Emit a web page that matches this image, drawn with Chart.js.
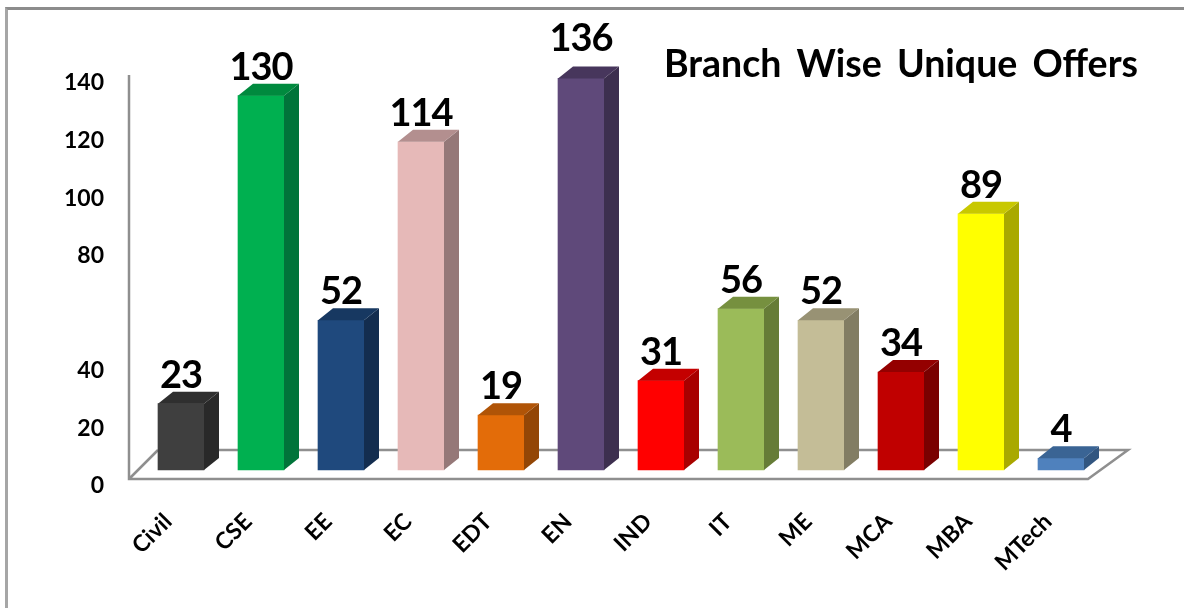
<!DOCTYPE html>
<html>
<head>
<meta charset="utf-8">
<script src="https://cdn.jsdelivr.net/npm/chart.js@4"></script>
<style>
    html, body { margin: 0; padding: 0; background: #fff; overflow: hidden; }
    #wrap { position: relative; width: 1184px; height: 608px; }
    #frame { position: absolute; left: 5px; top: 7px; right: 0; bottom: 0; border-top: 3px solid #8c8c8c; border-left: 3px solid #a6a6a6; }
    canvas { position: absolute; left: 0; top: 0; }
</style>
</head>
<body>
<div id="wrap">
    <div id="frame"></div>
    <canvas id="myChart" width="1184" height="608"></canvas>
</div>
<script>
const categories = ['Civil', 'CSE', 'EE', 'EC', 'EDT', 'EN', 'IND', 'IT', 'ME', 'MCA', 'MBA', 'MTech'];
const offers = [23, 130, 52, 114, 19, 136, 31, 56, 52, 34, 89, 4];
const barColors = ['#3f3f3f', '#00b050', '#1f497d', '#e6b9b8', '#e36c09', '#5f497a', '#ff0000', '#9bbb59', '#c4bd97', '#c00000', '#ffff00', '#4f81bd'];
const topColors = ['#2f2f2f', '#008a3e', '#173861', '#b38f8f', '#b05407', '#47365c', '#c40000', '#76903f', '#989274', '#940000', '#c8c800', '#3a6494'];
const sideColors = ['#292929', '#00743a', '#132d4f', '#957878', '#934606', '#3d2f4f', '#a80000', '#667c37', '#827d63', '#7a0000', '#a9a900', '#325680'];
const hiddenTicks = [60];
const chartTitle = 'Branch Wise Unique Offers';

const DEPTH_X = 15;
const DEPTH_Y = 12;
const FONT = 'Lato, sans-serif';

function poly(ctx, color, pts) {
    ctx.fillStyle = color;
    ctx.beginPath();
    pts.forEach((p, i) => i ? ctx.lineTo(p[0], p[1]) : ctx.moveTo(p[0], p[1]));
    ctx.closePath();
    ctx.fill();
}

// floor and wall of the fake 3D box, goes behind the bars
const floorPlugin = {
    id: 'floor',
    beforeDatasetsDraw(chart) {
        const ctx = chart.ctx;
        const {left, right, bottom} = chart.chartArea;
        const x0 = left - 12, x1 = right - 13, y0 = bottom - 7;
        ctx.save();
        ctx.strokeStyle = '#8f8f8f';
        ctx.lineWidth = 2.5;
        ctx.beginPath();
        ctx.moveTo(x0, 75);
        ctx.lineTo(x0, y0);
        ctx.lineTo(x1, y0);
        ctx.lineTo(x1 + 40, y0 - 29);
        ctx.lineTo(x0 + 29, y0 - 29);
        ctx.moveTo(x0, y0);
        ctx.lineTo(x0 + 29, y0 - 29);
        ctx.stroke();
        ctx.restore();
    }
};

// side and top faces for every bar, then the value labels and the title
const depthPlugin = {
    id: 'depth',
    afterDatasetsDraw(chart) {
        const ctx = chart.ctx;
        ctx.save();
        chart.getDatasetMeta(0).data.forEach((bar, i) => {
            const l = bar.x - bar.width / 2, r = bar.x + bar.width / 2;
            poly(ctx, sideColors[i], [[r, bar.base], [r + DEPTH_X, bar.base - DEPTH_Y], [r + DEPTH_X, bar.y - DEPTH_Y], [r, bar.y]]);
            poly(ctx, topColors[i], [[l, bar.y], [l + DEPTH_X, bar.y - DEPTH_Y], [r + DEPTH_X, bar.y - DEPTH_Y], [r, bar.y]]);
            ctx.fillStyle = '#000';
            ctx.font = 'bold 38px ' + FONT;
            ctx.letterSpacing = '-1px';
            ctx.textAlign = 'center';
            ctx.textBaseline = 'alphabetic';
            // the tallest bar has its label pushed up a bit in the original
            const gap = offers[i] === Math.max(...offers) ? 15 : 4;
            ctx.fillText(String(offers[i]), bar.x, bar.y - DEPTH_Y - gap);
        });
        ctx.font = 'bold 37.5px ' + FONT;
        ctx.letterSpacing = '0px';
        ctx.textAlign = 'left';
        ctx.wordSpacing = '6px';
        ctx.fillStyle = '#000';
        ctx.fillText(chartTitle, 664, 77);
        ctx.restore();
    }
};

new Chart(document.getElementById('myChart').getContext('2d'), {
    type: 'bar',
    data: {
        labels: categories,
        datasets: [{
            data: offers,
            yAxisID: 'yBars',
            backgroundColor: barColors,
            borderWidth: 0,
            barThickness: 46
        }]
    },
    options: {
        responsive: false,
        animation: false,
        layout: {
            autoPadding: false,
            padding: {left: 0, right: 83, top: 0, bottom: 0}
        },
        plugins: {
            legend: {display: false},
            title: {display: false},
            tooltip: {enabled: false}
        },
        scales: {
            x: {
                grid: {display: false},
                border: {display: false},
                afterFit(scale) { scale.height = 122; },
                ticks: {
                    autoSkip: false,
                    minRotation: 45,
                    maxRotation: 45,
                    padding: 14,
                    labelOffset: -13,
                    color: '#000',
                    font: {family: FONT, size: 23, weight: 'bold'}
                }
            },
            // labelled axis, its zero sits lower than the bar base like the original
            y: {
                position: 'left',
                min: 0,
                max: 151.2,
                grid: {display: false, drawTicks: false},
                border: {display: false},
                afterFit(scale) { scale.width = 141; },
                ticks: {
                    stepSize: 20,
                    includeBounds: false,
                    padding: 37,
                    color: '#000',
                    font: {family: FONT, size: 23, weight: 'bold'},
                    callback: value => hiddenTicks.includes(value) ? '' : value
                }
            },
            yBars: {
                display: false,
                min: -5.6,
                max: 145.6
            }
        }
    },
    plugins: [floorPlugin, depthPlugin]
});
</script>
</body>
</html>
